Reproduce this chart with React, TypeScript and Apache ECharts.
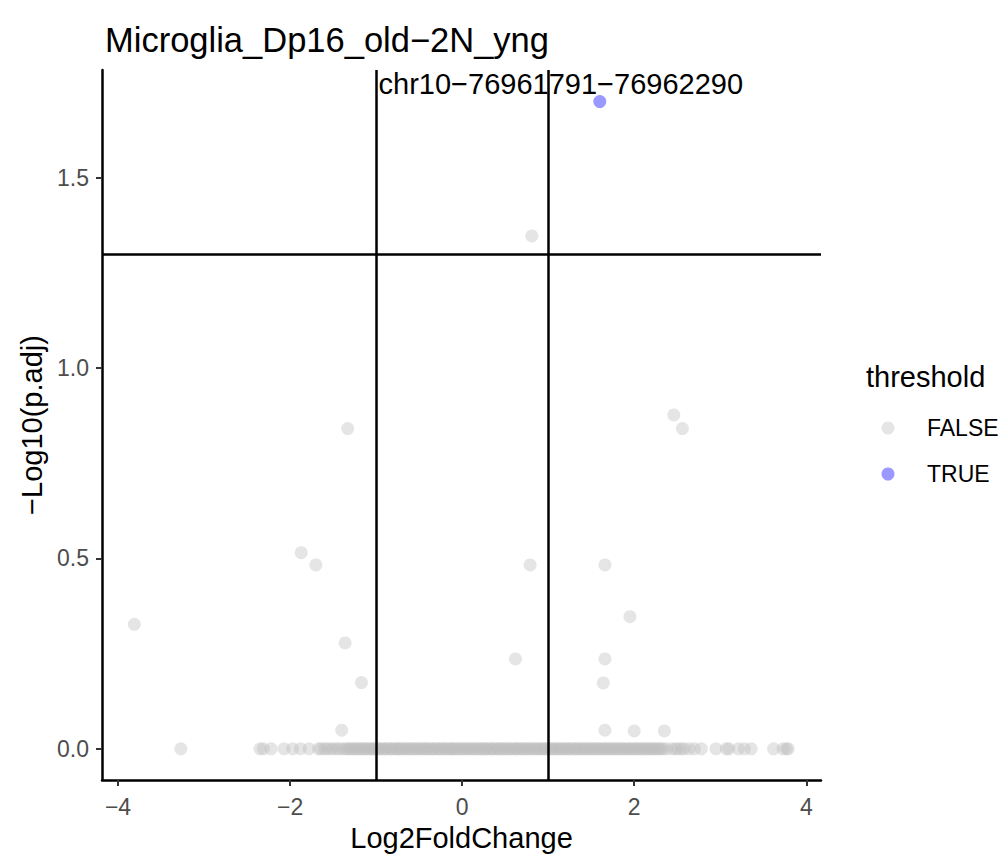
import React, { useEffect, useRef } from "react";
import * as echarts from "echarts";

const TITLE = "Microglia_Dp16_old\u22122N_yng";
const X_NAME = "Log2FoldChange";
const Y_NAME = "\u2212Log10(p.adj)";
const LEGEND_TITLE = "threshold";
const LEGEND_ITEMS = ["FALSE", "TRUE"];
const X_TICKS = [-4, -2, 0, 2, 4];
const Y_TICKS = [0, 0.5, 1.0, 1.5];
const LFC_CUTOFFS = [-1, 1];
const PADJ_CUTOFF = 1.30103;

// FALSE points above zero
const falseX = [0.81, -1.33, 2.46, 2.56, -1.87, -1.70, 0.79, 1.66, -3.81, 1.95, -1.36, 0.62, 1.66, -1.17, 1.64, -1.40, 1.66, 2.00, 2.35];
const falseY = [1.347, 0.841, 0.877, 0.841, 0.515, 0.483, 0.483, 0.483, 0.327, 0.347, 0.278, 0.236, 0.236, 0.174, 0.173, 0.049, 0.049, 0.047, 0.047];

// FALSE points with -log10(p.adj) = 0
const zeroRowX = [
  -3.27, -2.35, -2.31, -2.22, -2.07, -1.97, -1.88, -1.78, -1.67, -1.64,
  -1.60, -1.57, -1.53, -1.50, -1.46, -1.43, -1.39, -1.36, -1.33, -1.29,
  -1.26, -1.22, -1.19, -1.15, -1.12, -1.08, -1.05, -1.02, -0.98, -0.95,
  -0.91, -0.88, -0.84, -0.81, -0.77, -0.74, -0.71, -0.67, -0.64, -0.60,
  -0.57, -0.53, -0.50, -0.46, -0.43, -0.40, -0.36, -0.33, -0.29, -0.26,
  -0.22, -0.19, -0.15, -0.12, -0.09, -0.05, -0.02, 0.02, 0.05, 0.09,
  0.12, 0.16, 0.19, 0.23, 0.26, 0.29, 0.33, 0.36, 0.40, 0.43,
  0.47, 0.50, 0.54, 0.57, 0.61, 0.64, 0.67, 0.71, 0.74, 0.78,
  0.81, 0.85, 0.88, 0.92, 0.95, 0.98, 1.02, 1.05, 1.09, 1.12,
  1.16, 1.19, 1.23, 1.26, 1.30, 1.33, 1.36, 1.40, 1.43, 1.47,
  1.50, 1.54, 1.57, 1.61, 1.64, 1.68, 1.71, 1.75, 1.78, 1.82,
  1.85, 1.89, 1.92, 1.96, 1.99, 2.03, 2.06, 2.10, 2.13, 2.17,
  2.20, 2.24, 2.27, 2.31, 2.34, 2.38, 2.44, 2.48, 2.51, 2.55,
  2.58, 2.64, 2.70, 2.78, 2.95, 3.07, 3.10, 3.21, 3.28, 3.36,
  3.62, 3.73, 3.77, 3.79,
];
// more zero-row genes, overlapping in the dense core
const zeroRowCoreX = [
  -1.31, -1.24, -1.17, -1.10, -1.03, -0.96, -0.89, -0.82, -0.75, -0.69,
  -0.62, -0.55, -0.48, -0.41, -0.34, -0.27, -0.20, -0.13, -0.07, 0.00,
  0.07, 0.14, 0.21, 0.28, 0.35, 0.42, 0.48, 0.55, 0.62, 0.69,
  0.76, 0.83, 0.90, 0.97, 1.04, 1.11, 1.17, 1.24, 1.31, 1.38,
  1.45, 1.52, 1.59, 1.66, 1.73, 1.80, 1.87, 1.94, 2.01, 2.08,
  2.15, 2.22, 2.29,
];

// TRUE points
const trueX = [1.6];
const trueY = [1.7];
const trueLabels = ["chr10\u221276961791\u221276962290"];

const FONT = "'Liberation Sans', Arial, Helvetica, sans-serif";
const COLOR_FALSE = "#bebebe";
const COLOR_TRUE = "#0000ff";
const LEGEND_SWATCH = ["#e5e5e5", "#9999ff"];
const minus = (s: string) => s.replace(/-/g, "\u2212");

export default function App() {
  const ref = useRef<HTMLDivElement>(null);
  useEffect(() => {
    if (!ref.current) return;
    const chart = echarts.init(ref.current, null, { renderer: "svg" });
    const falseData: number[][] = [];
    zeroRowX.forEach((x) => falseData.push([x, 0]));
    zeroRowCoreX.forEach((x) => falseData.push([x, 0]));
    falseX.forEach((x, i) => falseData.push([x, falseY[i]]));
    const trueData = trueX.map((x, i) => [x, trueY[i]]);

    const legendGraphics: any[] = [
      {
        type: "text",
        left: 866,
        top: 362,
        style: { text: LEGEND_TITLE, fontSize: 29, fill: "#000", fontFamily: FONT },
      },
    ];
    LEGEND_ITEMS.forEach((name, i) => {
      const cy = 428 + i * 46;
      legendGraphics.push({
        type: "circle",
        shape: { cx: 888, cy, r: 6.5 },
        style: { fill: LEGEND_SWATCH[i] },
      });
      legendGraphics.push({
        type: "text",
        x: 927,
        y: cy,
        style: {
          text: name,
          fontSize: 23,
          fill: "#000",
          fontFamily: FONT,
          verticalAlign: "middle",
          align: "left",
        },
      });
    });

    chart.setOption({
      animation: false,
      backgroundColor: "#ffffff",
      textStyle: { fontFamily: FONT },
      title: {
        text: TITLE,
        left: 100,
        top: 17,
        textStyle: { fontSize: 34.5, fontWeight: "normal", color: "#000", fontFamily: FONT },
      },
      grid: { left: 102, right: 182, top: 70, bottom: 70, containLabel: false },
      xAxis: {
        type: "value",
        min: -4.186,
        max: 4.171,
        name: X_NAME,
        nameLocation: "middle",
        nameGap: 43,
        nameTextStyle: { fontSize: 29, color: "#000", fontFamily: FONT },
        axisLine: { show: true, onZero: false, lineStyle: { color: "#000", width: 2.5 } },
        axisTick: { show: true, length: 6, customValues: X_TICKS, lineStyle: { color: "#333", width: 2 } },
        axisLabel: {
          customValues: X_TICKS,
          margin: 15,
          fontSize: 23,
          color: "#4D4D4D",
          fontFamily: FONT,
          formatter: (v: number) => minus(String(v)),
        },
        splitLine: { show: false },
      },
      yAxis: {
        type: "value",
        min: -0.082,
        max: 1.783,
        name: Y_NAME,
        nameLocation: "middle",
        nameRotate: 90,
        nameGap: 56,
        nameTextStyle: { fontSize: 29, color: "#000", fontFamily: FONT },
        axisLine: { show: true, onZero: false, lineStyle: { color: "#000", width: 2.5 } },
        axisTick: { show: true, length: 6, customValues: Y_TICKS, lineStyle: { color: "#333", width: 2 } },
        axisLabel: {
          customValues: Y_TICKS,
          margin: 13,
          fontSize: 23,
          color: "#4D4D4D",
          fontFamily: FONT,
          formatter: (v: number) => v.toFixed(1),
        },
        splitLine: { show: false },
      },
      graphic: legendGraphics,
      series: [
        {
          name: "FALSE",
          type: "scatter",
          symbol: "circle",
          symbolSize: 13,
          data: falseData,
          itemStyle: { color: COLOR_FALSE, opacity: 0.4 },
          emphasis: { disabled: true },
          silent: true,
          z: 2,
        },
        {
          name: "TRUE",
          type: "scatter",
          symbol: "circle",
          symbolSize: 13,
          data: trueData,
          itemStyle: { color: COLOR_TRUE, opacity: 0.4 },
          label: {
            show: true,
            position: "inside",
            offset: [-39, -18],
            formatter: (p: any) => trueLabels[p.dataIndex],
            fontSize: 29,
            color: "#000",
            opacity: 1,
            fontFamily: FONT,
          },
          emphasis: { disabled: true },
          silent: true,
          z: 3,
        },
        {
          name: "cutoffs",
          type: "scatter",
          data: [],
          silent: true,
          z: 5,
          markLine: {
            silent: true,
            symbol: ["none", "none"],
            label: { show: false },
            lineStyle: { color: "#000", width: 2.5, type: "solid" },
            emphasis: { disabled: true },
            data: [
              ...LFC_CUTOFFS.map((v) => ({ xAxis: v })),
              { yAxis: PADJ_CUTOFF },
            ],
          },
        },
      ],
    });
    return () => chart.dispose();
  }, []);

  return (
    <div
      ref={ref}
      style={{ position: "fixed", left: 0, top: 0, width: 1003, height: 857, background: "#fff" }}
    />
  );
}
